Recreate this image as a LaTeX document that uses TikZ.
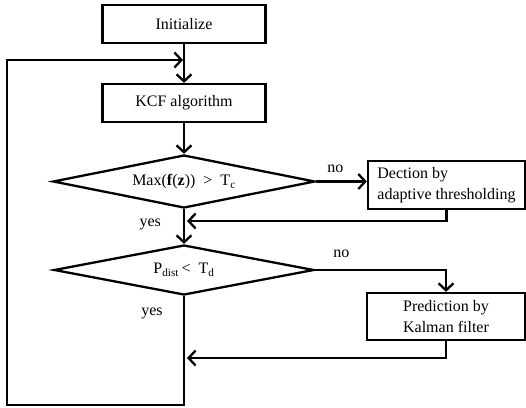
\documentclass[tikz,border=0pt]{standalone}
\usepackage{fontspec}
\setmainfont{Liberation Serif}
\usetikzlibrary{positioning,shapes.geometric,arrows.meta}

\begin{document}
\begin{tikzpicture}[x=1pt,y=-1pt,line width=2.3pt,>={Straight Barb[length=7pt,width=15pt]},every node/.style={font=\fontsize{16}{21}\selectfont},box/.style={draw,rectangle,minimum width=163pt,minimum height=38pt,inner sep=0pt,align=center},test/.style={draw,diamond,aspect=5,inner sep=0pt,minimum width=262pt,minimum height=53pt},lbl/.style={inner sep=0pt}]
\useasboundingbox (0,0) rectangle (526,407);
\node[box] (init) at (184,24) {Initialize};
\node[box] (kcf) at (184,103) {KCF algorithm};
\node[test] (max) at (184,181.5) {Max(\textbf{f}(\textbf{z}))\ \ >\ \ T\textsubscript{c}};
\node[test,minimum width=260pt,minimum height=50pt] (dist) at (184,270) {P\textsubscript{dist}\,<\ \ T\textsubscript{d}};
\node[box,minimum width=157pt,minimum height=48pt,align=left] (det) at (446.5,185) {Dection by\\adaptive thresholding};
\node[box,minimum width=158pt,minimum height=47pt] (kal) at (446,316.5) {Prediction by\\Kalman filter};
\coordinate (j1) at (187,221);
\coordinate (j2) at (187,358);
\coordinate (lp) at (183,60);
\draw[->] (init) -- (kcf);
\draw[->] (kcf) -- (max);
\draw[->] (max.east) -- (max.east -| det.west) node[lbl,pos=0.38,above=8pt] {no};
\draw[->] (det.south) |- (j1);
\draw[->] (max.south) -- (dist.north) node[lbl,pos=0.45,left=22pt] {yes};
\draw[->] (dist.east) -| (kal.north) node[lbl,pos=0.1,above=11pt] {no};
\draw[->] (kal.south) |- (j2);
\draw[->] (dist.south) |- (7,405) |- (lp);
\node[lbl] (yes2) at (152,313) {yes};
\end{tikzpicture}
\end{document}
